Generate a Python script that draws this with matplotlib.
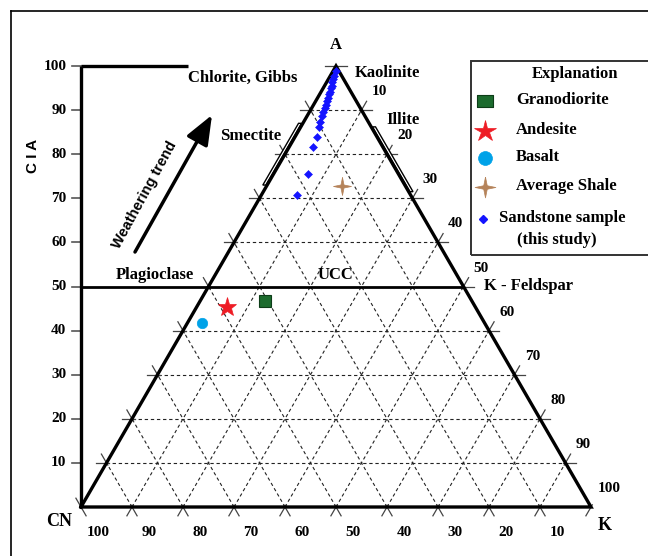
import numpy as np
import matplotlib
matplotlib.use("Agg")
import matplotlib.pyplot as plt
from matplotlib.patches import Polygon, Rectangle
from matplotlib.lines import Line2D

plt.rcParams['font.family'] = ['Liberation Serif', 'DejaVu Serif']
plt.rcParams['font.weight'] = 'bold'

# ---------------- data (A = Al2O3, K = K2O, CN = CaO*+Na2O, molar %) -------------
sandstone_A = [98.9, 97.8, 97.05, 96.3, 95.5, 94.9, 94.2, 93.6, 92.8, 92.1,
               91.2, 90.4, 89.5, 88.7, 87.4, 86.2, 84.0, 81.7, 75.5, 70.7]
sandstone_K = [0.5, 0.8, 0.95, 1.1, 1.4, 1.55, 1.7, 1.9, 2.1, 2.25,
               2.4, 2.6, 2.75, 2.95, 3.2, 3.6, 4.2, 4.6, 6.7, 7.0]

ref_names = ['Granodiorite', 'Andesite', 'Basalt', 'Average Shale']
ref_A = [46.6, 45.4, 41.8, 72.8]
ref_K = [12.8, 5.9, 2.8, 14.7]

grid_levels = [10, 20, 30, 40, 50, 60, 70, 80, 90]
cia_ticks = [10, 20, 30, 40, 50, 60, 70, 80, 90, 100]
cn_labels = [100, 90, 80, 70, 60, 50, 40, 30, 20, 10]
k_labels = [10, 20, 30, 40, 50, 60, 70, 80, 90, 100]

smectite_A = [73.0, 87.0]
illite_A = [71.5, 86.2]

# ---------------- figure / coordinate system ------------------------------------
W, H = 648, 556
X0, Y0 = 81, 507      # pixel of CN vertex
SX, SY = 5.1, 4.41    # pixels per data unit

fig = plt.figure(figsize=(W / 100, H / 100), dpi=100)
ax = fig.add_axes([0, 0, 1, 1])
ax.set_xlim(-X0 / SX, (W - X0) / SX)
ax.set_ylim((Y0 - H) / SY, Y0 / SY)
ax.axis('off')


def P(px, py):
    return ((px - X0) / SX, (Y0 - py) / SY)


def tern(A, K):
    A = np.asarray(A, dtype=float)
    K = np.asarray(K, dtype=float)
    return K + A / 2.0, A


def F(px, py):
    return (px / W, 1 - py / H)


dash = dict(color='#222222', lw=0.8, ls=(0, (3, 2.5)), zorder=1)
tick = dict(color='#444444', lw=0.9, zorder=1)
EXT = 2.0

# horizontal lines (constant A)
for v in grid_levels:
    xl, xr = v / 2.0, 100 - v / 2.0
    if v == 50:
        ax.plot([0, xr], [v, v], color='black', lw=2.0, zorder=4, solid_capstyle='butt')
        ax.plot([xr, xr + EXT], [v, v], **tick)
        continue
    ax.plot([xl, xr], [v, v], **dash)
    ax.plot([xl - EXT, xl + 0.5], [v, v], **tick)
    ax.plot([xr - 0.5, xr + EXT], [v, v], **tick)
ax.plot([50 - 2.2, 50 + 2.2], [100, 100], **tick)

# constant K lines (parallel to A-CN edge)
for v in grid_levels + [100]:
    top = 100 - v
    if v < 100:
        A = np.array([0, top]); x, y = tern(A, [v, v])
        ax.plot(x, y, **dash)
        A = np.array([top - 0.5, top + EXT]); x = v + A / 2
        ax.plot(x, A, **tick)
    A = np.array([-EXT, 0.5]); x = v + A / 2
    ax.plot(x, A, **tick)

# constant CN lines (parallel to A-K edge)
for c in grid_levels + [100]:
    top = 100 - c
    if c < 100:
        A = np.array([0, top]); x = 100 - c - A / 2
        ax.plot(x, A, **dash)
        A = np.array([top - 0.5, top + EXT]); x = 100 - c - A / 2
        ax.plot(x, A, **tick)
    A = np.array([-EXT, 0.5 if c < 100 else EXT]); x = 100 - c - A / 2
    ax.plot(x, A, **tick)

# triangle edges
ax.plot([0, 50, 100, 0], [0, 100, 0, 0], color='black', lw=2.4, zorder=4,
        solid_joinstyle='miter')

# CIA axis
ax.plot([0, 0], [0, 100], color='black', lw=2.4, zorder=4, solid_capstyle='butt')
ax.plot([0, P(188, 0)[0]], [100, 100], color='black', lw=2.4, zorder=4, solid_capstyle='butt')
for v in cia_ticks:
    ax.plot([-9 / SX, 0], [v, v], color='#555555', lw=1.2, zorder=3)
    ax.annotate(str(v), xy=(0, v), xytext=(-10.5, 0), textcoords='offset points',
                ha='right', va='center', fontsize=11, fontweight='bold')

# axis tick labels
for c in cn_labels:
    ax.annotate(str(c), xy=(100 - c, 0), xytext=(12.2, -18.7), textcoords='offset points',
                ha='center', va='center', fontsize=11, fontweight='bold')
for k in k_labels:
    x, y = tern(100 - k, k)
    ax.annotate(str(k), xy=(float(x), float(y)), xytext=(12.8, 13.3), textcoords='offset points',
                ha='center', va='center', fontsize=11, fontweight='bold', zorder=2)

# mineral bars (hugging the triangle edges)
a1, a2 = smectite_A
sm = Polygon([(a1 / 2 - 0.25, a1), (a2 / 2 - 0.25, a2), (a2 / 2 - 0.85, a2), (a1 / 2 - 0.85, a1)],
             closed=True, facecolor='white', edgecolor='black', lw=1.0, zorder=3)
ax.add_patch(sm)
a1, a2 = illite_A
il = Polygon([(100 - a1 / 2 + 0.25, a1), (100 - a2 / 2 + 0.25, a2), (100 - a2 / 2 + 0.85, a2),
              (100 - a1 / 2 + 0.85, a1)],
             closed=True, facecolor='white', edgecolor='black', lw=1.0, zorder=3)
ax.add_patch(il)

# labels
lab = dict(fontsize=12, fontweight='bold', va='center', zorder=6)
ax.text(*P(336, 45), 'A', ha='center', **lab)
ax.text(*P(188, 78), 'Chlorite, Gibbs', ha='left', **lab)
ax.text(*P(355, 73), 'Kaolinite', ha='left', **lab)
ax.text(*P(386, 120), 'Illite', ha='left', **lab)
ax.text(*P(220, 136), 'Smectite', ha='left', **lab)
ax.text(*P(116, 275), 'Plagioclase', ha='left', **lab)
ax.text(*P(318, 275), 'UCC', ha='left', **lab)
ax.text(*P(484, 286), 'K - Feldspar', ha='left', **lab)
ax.text(*P(59, 522), 'CN', ha='center', fontsize=13, fontweight='bold', va='center')
ax.text(*P(605, 526), 'K', ha='center', fontsize=13, fontweight='bold', va='center')
ax.text(*P(33, 156), 'C I A', ha='center', va='center', rotation=90, fontsize=11,
        fontweight='bold', family=['Liberation Sans', 'DejaVu Sans'])
ax.text(*P(145, 195), 'Weathering trend', ha='center', va='center', rotation=61.4,
        rotation_mode='anchor', fontsize=10.5, fontweight='bold',
        family=['Liberation Sans', 'DejaVu Sans'])
ax.annotate('', xy=P(212, 115), xytext=P(135, 252),
            arrowprops=dict(arrowstyle='-|>,head_length=0.75,head_width=0.3',
                            lw=2.5, color='black', mutation_scale=24,
                            shrinkA=0, shrinkB=0))

# markers
shale_marker = [(0, 1), (0.17, 0.17), (1, 0), (0.17, -0.17), (0, -1), (-0.17, -0.17),
                (-1, 0), (-0.17, 0.17), (0, 1)]
rect_marker = [(-1, -0.72), (1, -0.72), (1, 0.72), (-1, 0.72), (-1, -0.72)]
styles = {
    'Granodiorite': dict(marker='s', ms=8, mfc='#1c6b2e', mec='#0d3d18', mew=0.8),
    'Andesite': dict(marker='*', ms=14, mfc='#ee1c25', mec='#ee1c25', mew=0.5),
    'Basalt': dict(marker='o', ms=7.5, mfc='#00a2e8', mec='#00a2e8', mew=0.5),
    'Average Shale': dict(marker=shale_marker, ms=13, mfc='#b5835a', mec='#b5835a', mew=0.5),
}
for name, a, k in zip(ref_names, ref_A, ref_K):
    x, y = tern(a, k)
    ax.plot(x, y, ls='none', zorder=6, **styles[name])

sx, sy = tern(sandstone_A, sandstone_K)
ax.plot(sx, sy, ls='none', marker='D', ms=3.6, mfc='#1414ff', mec='#1414ff', mew=0.4, zorder=7)

# legend (manual "Explanation" box)
fig.add_artist(Rectangle(F(471, 255), (W + 20 - 471) / W, (255 - 61) / H,
                         transform=fig.transFigure, fill=False, edgecolor='#333333', lw=1.4))
fig.text(*F(575, 74), 'Explanation', ha='center', va='center', fontsize=12, fontweight='bold')
leg = [
    ('Granodiorite', 101, dict(marker=rect_marker, ms=11.5, mfc='#1c6b2e', mec='#0d3d18', mew=0.8)),
    ('Andesite', 131, dict(marker='*', ms=16, mfc='#ee1c25', mec='#ee1c25', mew=0.5)),
    ('Basalt', 158, dict(marker='o', ms=10, mfc='#00a2e8', mec='#00a2e8', mew=0.5)),
    ('Average Shale', 187, dict(marker=shale_marker, ms=15, mfc='#b5835a', mec='#b5835a', mew=0.5)),
]
for name, py, st in leg:
    fig.add_artist(Line2D([F(485, py)[0]], [F(485, py)[1]], transform=fig.transFigure, ls='none', **st))
    fig.text(*F(516, py - 1), name, ha='left', va='center', fontsize=12, fontweight='bold')
fig.add_artist(Line2D([F(483, 219)[0]], [F(483, 219)[1]], transform=fig.transFigure, ls='none',
                      marker='D', ms=3.6, mfc='#1414ff', mec='#1414ff'))
fig.text(*F(499, 218), 'Sandstone sample', ha='left', va='center', fontsize=12, fontweight='bold')
fig.text(*F(517, 240), '(this study)', ha='left', va='center', fontsize=12, fontweight='bold')

# outer frame
fig.add_artist(Line2D([F(11, 0)[0], F(11, 0)[0]], [F(0, 11)[1], 0], transform=fig.transFigure,
                      color='black', lw=1.2))
fig.add_artist(Line2D([F(11, 0)[0], 1], [F(0, 11)[1], F(0, 11)[1]], transform=fig.transFigure,
                      color='black', lw=1.2))

fig.savefig('out.png', dpi=100)
